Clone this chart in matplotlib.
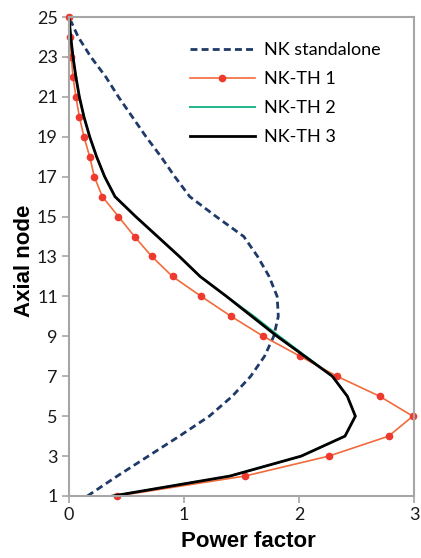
import numpy as np
import matplotlib
matplotlib.use('Agg')
import matplotlib.pyplot as plt

# axial power profiles, node 1 (bottom) .. 25 (top)
nodes = list(range(1, 26))
nk_standalone = [0.16, 0.42, 0.69, 0.96, 1.22, 1.42, 1.58, 1.70, 1.78, 1.82,
                 1.81, 1.74, 1.64, 1.52, 1.28, 1.05, 0.92, 0.80, 0.67, 0.55,
                 0.43, 0.32, 0.19, 0.08, 0.00]
nk_th1 = [0.42, 1.53, 2.26, 2.78, 2.99, 2.70, 2.33, 2.01, 1.69, 1.41,
          1.15, 0.90, 0.72, 0.57, 0.43, 0.29, 0.22, 0.18, 0.13, 0.09,
          0.06, 0.035, 0.02, 0.01, 0.0]
nk_th2 = [0.38, 1.40, 2.02, 2.40, 2.49, 2.42, 2.29, 2.06, 1.83, 1.61,
          1.37, 1.14, 0.96, 0.77, 0.58, 0.40, 0.31, 0.24, 0.18, 0.13,
          0.09, 0.06, 0.035, 0.015, 0.0]
nk_th3 = [0.38, 1.40, 2.02, 2.40, 2.49, 2.42, 2.29, 2.05, 1.81, 1.59,
          1.37, 1.14, 0.96, 0.77, 0.58, 0.40, 0.31, 0.24, 0.18, 0.13,
          0.09, 0.06, 0.035, 0.015, 0.0]

x_ticks = [0, 1, 2, 3]
y_ticks = list(range(1, 26, 2))

plt.rcParams['font.family'] = ['Lato', 'DejaVu Sans']

fig = plt.figure(figsize=(4.21, 5.58), dpi=100)
ax = fig.add_axes([69/421, 1 - 496/558, 345/421, 479/558])

ax.plot(nk_standalone, nodes, linestyle=(0, (2.5, 1.5)), color='#1f3a68',
        linewidth=2.0, label='NK standalone')
ax.plot(nk_th1, nodes, '-', color='#f26b3a', linewidth=1.2, marker='o',
        markersize=4.5, markerfacecolor='#ee3a2e', markeredgecolor='#ee3a2e',
        label='NK-TH 1', clip_on=False)
ax.plot(nk_th2, nodes, '-', color='#1fb58a', linewidth=1.4, label='NK-TH 2')
ax.plot(nk_th3, nodes, '-', color='black', linewidth=2.0, label='NK-TH 3')

ax.set_xlim(0, 3)
ax.set_ylim(1, 25)
ax.set_xticks(x_ticks)
ax.set_yticks(y_ticks)
ax.tick_params(direction='out', length=5, width=1.2, color='#a6a6a6',
               labelsize=13, labelcolor='#1a1a1a', pad=3)
for s in ax.spines.values():
    s.set_color('#a6a6a6')
    s.set_linewidth(1.5)

ax.set_xlabel('Power factor', fontsize=16, fontweight='bold',
              family='Liberation Sans')
ax.set_ylabel('Axial node', fontsize=16, fontweight='bold',
              family='Liberation Sans')
ax.xaxis.set_label_coords(0.52, -0.074)
ax.yaxis.set_label_coords(-0.098, 0.49)

ax.legend(loc='upper left', bbox_to_anchor=(0.35, 0.947), frameon=False,
          fontsize=13, handlelength=3.6, handletextpad=0.5,
          labelspacing=0.72, borderaxespad=0, borderpad=0)

plt.savefig('out.png', dpi=100)
